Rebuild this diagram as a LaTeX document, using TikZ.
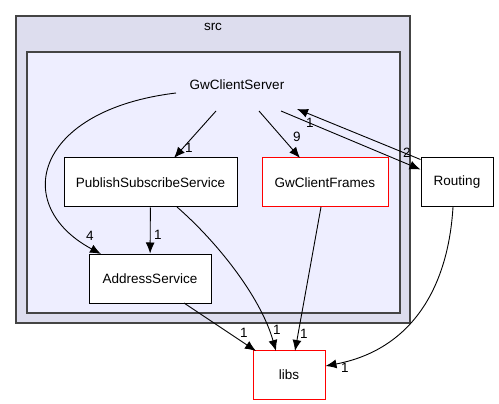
\documentclass[tikz,border=0pt]{standalone}
\usepackage{fontspec}
\setmainfont{Liberation Sans}
\usetikzlibrary{positioning,calc,arrows.meta}
\definecolor{srcfill}{HTML}{DDDDEE}
\definecolor{gcsfill}{HTML}{EEEEFF}
\definecolor{frame}{HTML}{444444}
\tikzset{
  dirbox/.style={draw, fill=white, line width=1pt, minimum height=49pt, inner sep=0pt, font=\fontsize{13.5}{16}\selectfont},
  extbox/.style={dirbox, draw=red},
  dep/.style={line width=0.9pt, -{Latex[length=11pt,width=9pt]}},
  cnt/.style={inner sep=0pt, font=\fontsize{13.5}{16}\selectfont}
}
\begin{document}
\begin{tikzpicture}[x=1pt, y=-1pt]
    \useasboundingbox (0,0) rectangle (499,404);
    % clusters
    \draw [frame, fill=srcfill, line width=1.3pt] (16,16) rectangle (410,323);
    \node [cnt] (srclabel) at (213,27) {src};
    \draw [frame, fill=gcsfill, line width=1.3pt] (27,52) rectangle (400,313);
    \node [cnt] (gcslabel) at (237,85) {GwClientServer};
    \coordinate (gcsa) at (176,93);
    \coordinate (gcsb) at (216,111);
    \coordinate (gcsc) at (259,111);
    \coordinate (gcsd) at (281,111);
    \coordinate (gcse) at (297,109);

    % directories
    \node [dirbox, minimum width=173pt] (pss) at (150.5,182.5) {PublishSubscribeService};
    \node [extbox, minimum width=126pt] (frames) at (325,182.5) {GwClientFrames};
    \node [dirbox, minimum width=72pt] (rout) at (457,182.5) {Routing};
    \node [dirbox, minimum width=122pt] (addr) at (150,278.5) {AddressService};
    \node [extbox, minimum width=72pt] (libs) at (289,375) {libs};

    % dependencies
    \draw [dep] (gcsa) .. controls (35,110) and (10,205) .. (101,254);
    \node [cnt] (n4) at (90,236) {4};
    \draw [dep] (gcsb) -- (174,158);
    \node [cnt] (n1a) at (189,148) {1};
    \draw [dep] (gcsc) -- (300,158);
    \node [cnt] (n9) at (297,137) {9};
    \draw [dep] (gcsd) -- ([yshift=-12pt]rout.north west);
    \node [cnt] (n2) at (407,153) {2};
    \draw [dep] ([yshift=-2pt]rout.north west) -- (gcse);
    \node [cnt] (n1b) at (310,123) {1};
    \draw [dep] (pss) -- (addr);
    \node [cnt] (n1c) at (158,235) {1};
    \draw [dep] (177,207) .. controls (215,240) and (260,295) .. (276,351);
    \node [cnt] (n1d) at (277,330) {1};
    \draw [dep] (184,303) -- (256,351);
    \node [cnt] (n1e) at (244,333) {1};
    \draw [dep] (321,207) -- (295,351);
    \node [cnt] (n1f) at (304,334) {1};
    \draw [dep] (453,207) .. controls (448,290) and (410,350) .. (libs.east |- 0,366);
    \node [cnt] (n1g) at (345,368) {1};
\end{tikzpicture}
\end{document}
